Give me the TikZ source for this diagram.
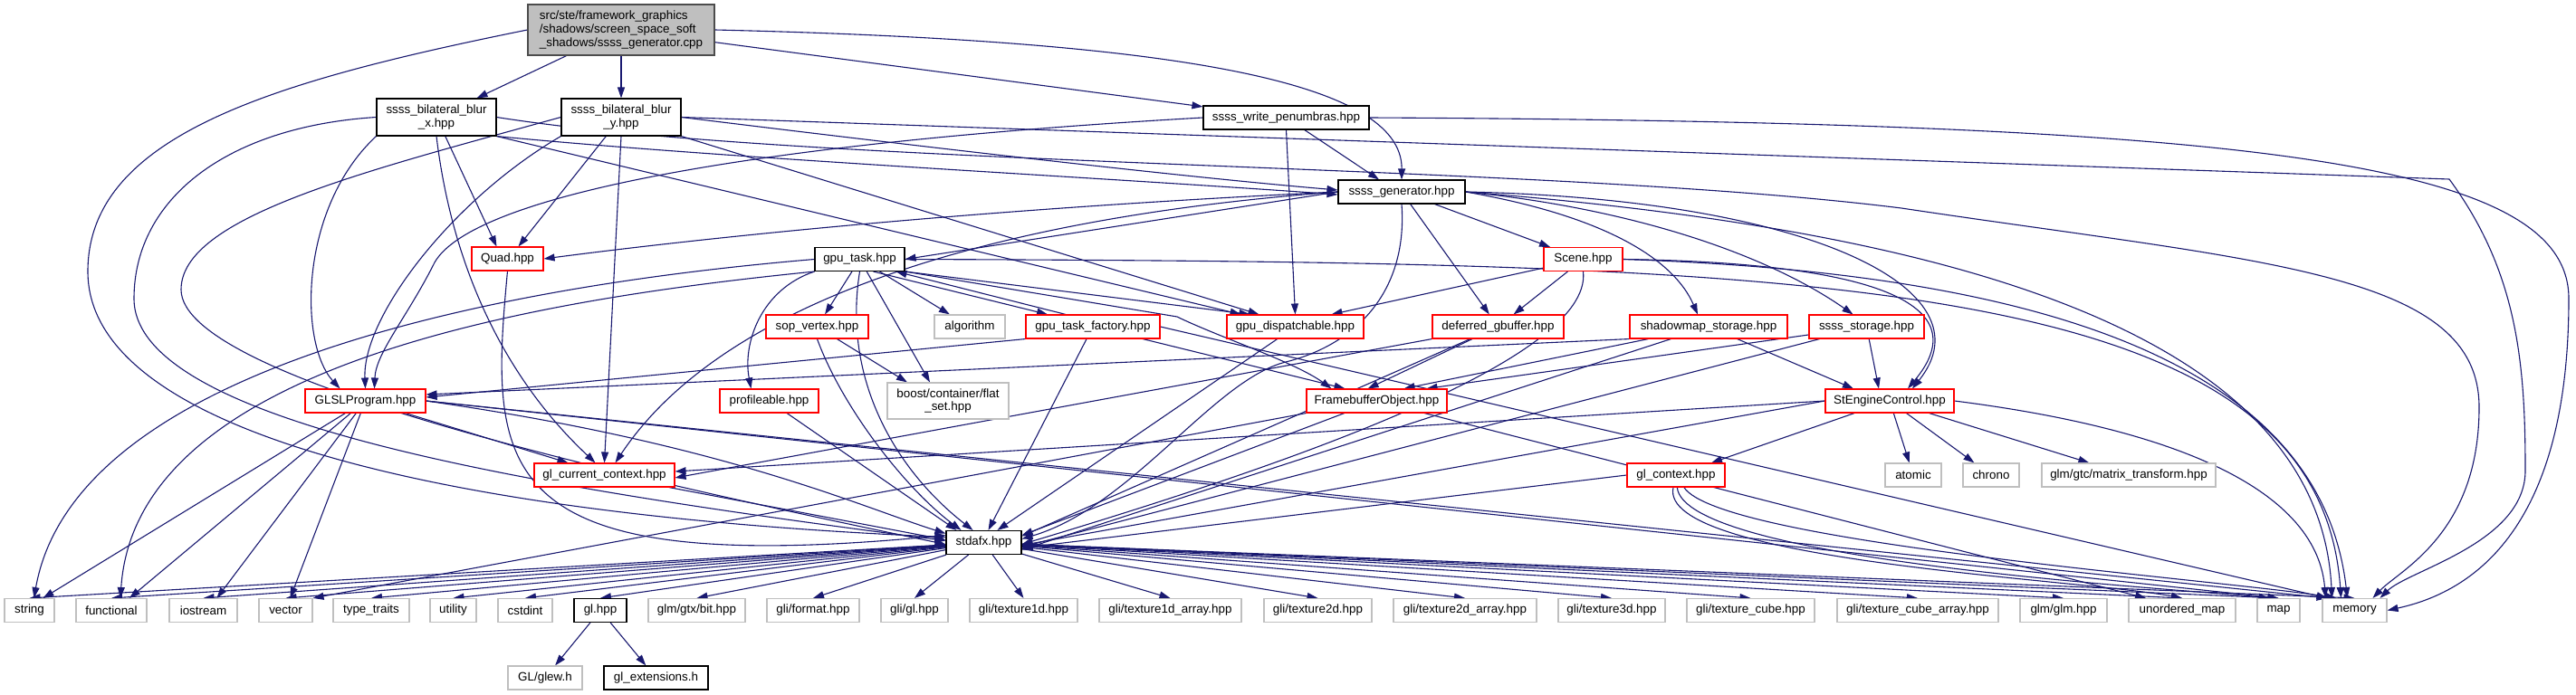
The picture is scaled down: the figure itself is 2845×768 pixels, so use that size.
\documentclass[tikz,border=0pt]{standalone}
\usepackage{fontspec}
\setmainfont{Liberation Sans}
\usetikzlibrary{arrows.meta,backgrounds}
\definecolor{incblue}{HTML}{191970}
\definecolor{sysgray}{HTML}{BFBFBF}
\newcommand{\dxfont}{\fontsize{13.4}{14.7}\selectfont}

\begin{document}
\begin{tikzpicture}[x=1pt, y=-1pt,
  box/.style={draw, line width=1.1pt, fill=white, inner sep=0pt, minimum height=26pt, font=\dxfont},
  hdr/.style={box, draw=red},
  own/.style={box, draw=black},
  sys/.style={box, draw=sysgray},
  root/.style={box, draw=black!70, fill=sysgray, align=left},
  inc/.style={draw=incblue, line width=1.1pt, -{Triangle[length=12pt,width=8pt]}}
]
\useasboundingbox (0,0) rectangle (2845,768);

% top of the graph
\node[root, minimum width=206pt, minimum height=56pt] (cpp) at (686,33) {src/ste/framework\_graphics\\/shadows/screen\_space\_soft\\\_shadows/ssss\_generator.cpp};
\node[own, minimum width=132pt, minimum height=41pt, align=center] (blurx) at (482,129.5) {ssss\_bilateral\_blur\\\_x.hpp};
\node[own, minimum width=132pt, minimum height=41pt, align=center] (blury) at (686,129.5) {ssss\_bilateral\_blur\\\_y.hpp};
\node[own, minimum width=183pt] (pen) at (1420.5,130) {ssss\_write\_penumbras.hpp};
\node[own, minimum width=140pt] (gen) at (1548,212) {ssss\_generator.hpp};

% middle
\node[hdr, minimum width=79pt] (quad) at (560.5,286) {Quad.hpp};
\node[own, minimum width=99pt] (gputask) at (949.5,286.5) {gpu\_task.hpp};
\node[hdr, minimum width=87pt] (scene) at (1748.5,286.5) {Scene.hpp};
\node[hdr, minimum width=113pt] (sop) at (902.5,361) {sop\_vertex.hpp};
\node[sys, minimum width=78pt] (algo) at (1071,361) {algorithm};
\node[hdr, minimum width=148pt] (factory) at (1207,361) {gpu\_task\_factory.hpp};
\node[hdr, minimum width=151pt] (disp) at (1430.5,361) {gpu\_dispatchable.hpp};
\node[hdr, minimum width=145pt] (gbuf) at (1654.5,361) {deferred\_gbuffer.hpp};
\node[hdr, minimum width=174pt] (smap) at (1887,361) {shadowmap\_storage.hpp};
\node[hdr, minimum width=127pt] (sstor) at (2061.5,361) {ssss\_storage.hpp};
\node[hdr, minimum width=133pt] (glsl) at (403.5,443) {GLSLProgram.hpp};
\node[hdr, minimum width=109pt] (prof) at (849.5,443) {profileable.hpp};
\node[sys, minimum width=134pt, minimum height=40pt, align=center] (flatset) at (1047,443) {boost/container/flat\\\_set.hpp};
\node[hdr, minimum width=155pt] (fbo) at (1520.5,443) {FramebufferObject.hpp};
\node[hdr, minimum width=142pt] (sec) at (2087,443) {StEngineControl.hpp};
\node[hdr, minimum width=155pt] (glcur) at (667.5,525) {gl\_current\_context.hpp};
\node[hdr, minimum width=108pt] (glctx) at (1851,525) {gl\_context.hpp};
\node[sys, minimum width=62pt] (atomic) at (2113,525) {atomic};
\node[sys, minimum width=62pt] (chrono) at (2199,525) {chrono};
\node[sys, minimum width=192pt] (mtx) at (2351,525) {glm/gtc/matrix\_transform.hpp};
\node[own, minimum width=83pt] (stdafx) at (1086.5,599.5) {stdafx.hpp};

% bottom row
\foreach \id/\cx/\w/\txt in {str/32.5/55/{string}, func/123/78/{functional}, iostr/224.5/75/{iostream},
    vec/315.5/59/{vector}, ttr/410/84/{type\_traits}, util/500.5/51/{utility}, cstd/580/60/{cstdint},
    gtxbit/769.5/107/{glm/gtx/bit.hpp}, glifmt/898/102/{gli/format.hpp}, gligl/1010/74/{gli/gl.hpp},
    tex1d/1130.5/119/{gli/texture1d.hpp}, tex1da/1292.5/157/{gli/texture1d\_array.hpp},
    tex2d/1455.5/119/{gli/texture2d.hpp}, tex2da/1618/158/{gli/texture2d\_array.hpp},
    tex3d/1780/118/{gli/texture3d.hpp}, texcube/1933.5/141/{gli/texture\_cube.hpp},
    texcubea/2118/178/{gli/texture\_cube\_array.hpp}, glmglm/2279/96/{glm/glm.hpp},
    umap/2410/118/{unordered\_map}, map/2516.5/47/{map}, memory/2600.5/71/{memory}}
  \node[sys, minimum width=\w pt] (\id) at (\cx,674.5) {\txt};
\node[own, minimum width=58pt] (glhpp) at (663,674.5) {gl.hpp};
\node[sys, minimum width=82pt] (glew) at (602,749) {GL/glew.h};
\node[own, minimum width=115pt] (glext) at (724.5,749) {gl\_extensions.h};

\begin{scope}[on background layer]
\fill[white] (0,0) rectangle (2845,768);
% ssss_generator.cpp
\draw[inc] (cpp) -- (blurx);
\draw[inc] (cpp) -- (blury);
\draw[inc] (cpp) -- (pen);
\draw[inc] (cpp.east) .. controls (1300,45) and (1549,90) .. (gen.north);
\draw[inc] (cpp.west) .. controls (300,90) and (97,150) .. (97,300) .. controls (97,480) and (500,570) .. ([yshift=6pt]stdafx.west);
% blur x
\draw[inc] (blurx.south east) .. controls (800,175) and (1200,195) .. ([yshift=-3pt]gen.west);
\draw[inc] (blurx) -- ([xshift=-12pt]quad.north);
\draw[inc] (blurx.south west) .. controls (330,230) and (330,380) .. ([xshift=-28pt]glsl.north);
\draw[inc] (blurx.south) .. controls (500,300) and (560,420) .. ([xshift=-10pt]glcur.north);
\draw[inc] (blurx.south east) -- ([xshift=-60pt]disp.north);
\draw[inc] (blurx.west) .. controls (250,140) and (148,220) .. (148,330) .. controls (148,470) and (600,540) .. ([yshift=2pt]stdafx.west);
\draw[inc] (blurx.east) .. controls (900,185) and (1700,180) .. (2100,230) .. controls (2500,290) and (2738,300) .. (2738,450) .. controls (2738,590) and (2650,630) .. ([xshift=20pt]memory.north);
% blur y
\draw[inc] (blury.east) .. controls (1000,160) and (1300,195) .. ([yshift=2pt]gen.west);
\draw[inc] (blury) -- ([xshift=12pt]quad.north);
\draw[inc] (blury.south west) .. controls (500,220) and (400,350) .. (glsl.north);
\draw[inc] (blury.south) -- (glcur.north);
\draw[inc] (blury.south east) -- ([xshift=-40pt]disp.north);
\draw[inc] (blury.west) .. controls (400,190) and (200,240) .. (200,320) .. controls (200,420) and (700,530) .. ([yshift=-2pt]stdafx.west);
\draw[inc] (blury.east) -- (2705,198) .. controls (2780,300) and (2789,400) .. (2789,520) .. controls (2789,600) and (2660,630) .. ([xshift=28pt]memory.north);
% write penumbras
\draw[inc] (pen) -- ([xshift=-25pt]gen.north);
\draw[inc] (pen.south) -- (disp.north);
\draw[inc] (pen.west) .. controls (800,160) and (520,220) .. (480,290) .. controls (450,350) and (415,390) .. ([xshift=10pt]glsl.north);
\draw[inc] (pen.east) .. controls (2500,135) and (2837,180) .. (2837,330) .. controls (2837,560) and (2750,650) .. (memory.east);
% ssss_generator.hpp
\draw[inc] (gen.west) -- (gputask.east);
\draw[inc] (gen.west) .. controls (1100,230) and (800,260) .. (quad.east);
\draw[inc] (gen.west) .. controls (1100,240) and (800,330) .. ([xshift=12pt]glcur.north);
\draw[inc] (gen) -- (scene);
\draw[inc] (gen) -- (gbuf);
\draw[inc] (gen.east) .. controls (1780,240) and (1850,290) .. ([xshift=-12pt]smap.north);
\draw[inc] (gen.east) .. controls (1800,230) and (1950,280) .. ([xshift=-15pt]sstor.north);
\draw[inc] (gen.east) .. controls (2000,220) and (2200,320) .. ([xshift=25pt]sec.north);
\draw[inc] (gen.south) .. controls (1555,320) and (1500,380) .. (1420,400) .. controls (1340,420) and (1250,560) .. ([yshift=4pt]stdafx.east);
\draw[inc] (gen.east) .. controls (2100,250) and (2560,350) .. ([xshift=-25pt]memory.north);
% gpu_task.hpp
\draw[inc] (gputask) -- (sop);
\draw[inc] (gputask) -- (algo);
\draw[inc] ([xshift=15pt]gputask.south) -- ([xshift=-50pt]factory.north);
\draw[inc] (gputask.south east) -- ([xshift=-50pt]disp.north);
\draw[inc] (gputask.south east) -- (1300,350) .. controls (1345,372) and (1430,400) .. ([xshift=-50pt]fbo.north);
\draw[inc] (gputask) -- ([xshift=-20pt]flatset.north);
\draw[inc] (gputask.south) .. controls (930,420) and (990,520) .. ([xshift=-12pt]stdafx.north);
\draw[inc] (gputask.west) .. controls (500,320) and (80,420) .. ([xshift=5pt]str.north);
\draw[inc] (gputask.south west) .. controls (600,330) and (150,400) .. ([xshift=10pt]func.north);
\draw[inc] (gputask.east) .. controls (2000,290) and (2560,300) .. ([xshift=-15pt]memory.north);
\draw[inc] (gputask.south west) .. controls (840,320) and (820,380) .. ([xshift=-20pt]prof.north);
% sop_vertex.hpp
\draw[inc] (sop) -- ([xshift=-45pt]flatset.north);
\draw[inc] (sop.south) .. controls (930,450) and (1000,540) .. ([xshift=-25pt]stdafx.north);
% gpu_task_factory.hpp
\draw[inc] ([xshift=-30pt]factory.north) -- ([xshift=40pt]gputask.south);
\draw[inc] (factory) -- ([xshift=-35pt]fbo.north);
\draw[inc] (factory.south west) -- ([yshift=4pt]glsl.east);
\draw[inc] (factory) -- ([xshift=5pt]stdafx.north);
\draw[inc] (factory.east) -- ([xshift=-30pt]memory.north);
% gpu_dispatchable.hpp
\draw[inc] (disp) -- ([xshift=15pt]stdafx.north);
% Scene.hpp
\draw[inc] (scene) -- ([xshift=40pt]disp.north);
\draw[inc] (scene) -- (gbuf);
\draw[inc] (scene.east) .. controls (2050,290) and (2190,330) .. ([xshift=20pt]sec.north);
\draw[inc] (scene.south) .. controls (1760,400) and (1400,520) .. ([yshift=-2pt]stdafx.east);
\draw[inc] (scene.east) .. controls (2200,300) and (2560,380) .. ([xshift=-8pt]memory.north);
% deferred_gbuffer.hpp
\draw[inc] (gbuf) -- ([xshift=-10pt]fbo.north);
\draw[inc] (gbuf.south west) -- ([yshift=-3pt]glcur.east);
\draw[inc] (gbuf) -- ([yshift=7pt]stdafx.east);
% shadowmap_storage.hpp
\draw[inc] (smap) -- ([xshift=30pt]fbo.north);
\draw[inc] (smap) -- ([xshift=-40pt]sec.north);
\draw[inc] (smap) -- ([yshift=-8pt]stdafx.east);
\draw[inc] (smap.south west) -- ([yshift=7pt]glsl.east);
% ssss_storage.hpp
\draw[inc] (sstor) -- ([xshift=55pt]fbo.north);
\draw[inc] (sstor) -- ([xshift=-12pt]sec.north);
\draw[inc] (sstor) -- ([yshift=-5pt]stdafx.east);
% Quad.hpp and profileable.hpp
\draw[inc] (quad.south) .. controls (540,520) and (540,640) .. ([yshift=8pt]stdafx.west);
\draw[inc] (prof) -- ([xshift=-30pt]stdafx.north);
% GLSLProgram.hpp
\draw[inc] (glsl) -- ([xshift=-40pt]glcur.north);
\draw[inc] (glsl) -- ([xshift=15pt]str.north);
\draw[inc] (glsl) -- ([xshift=20pt]func.north);
\draw[inc] (glsl) -- ([xshift=15pt]iostr.north);
\draw[inc] (glsl) -- ([xshift=5pt]vec.north);
\draw[inc] (glsl.east) .. controls (800,490) and (950,560) .. ([yshift=10pt]stdafx.west);
\draw[inc] (glsl.east) -- (map.north);
\draw[inc] (glsl.east) -- ([xshift=-30pt]memory.north);
% FramebufferObject.hpp
\draw[inc] (fbo) -- ([yshift=8pt]stdafx.east);
\draw[inc] (fbo.south west) -- (vec.north east);
\draw[inc] (fbo) -- ([xshift=-40pt]umap.north);
% StEngineControl.hpp
\draw[inc] (sec) -- (glctx);
\draw[inc] (sec) -- (atomic);
\draw[inc] (sec) -- (chrono);
\draw[inc] (sec) -- (mtx);
\draw[inc] (sec.west) -- ([yshift=-3pt]stdafx.east);
\draw[inc] (sec.west) -- ([yshift=4pt]glcur.east);
\draw[inc] (sec.east) .. controls (2450,480) and (2560,560) .. ([xshift=-32pt]memory.north);
% gl_current_context.hpp and gl_context.hpp
\draw[inc] (glcur) -- ([yshift=3pt]stdafx.west);
\draw[inc] (glctx.west) -- ([yshift=-6pt]stdafx.east);
\draw[inc] (glctx) .. controls (1830,620) and (2300,640) .. (umap.north);
\draw[inc] (glctx) .. controls (1860,620) and (2400,650) .. ([xshift=-10pt]map.north);
\draw[inc] (glctx) .. controls (1900,600) and (2450,640) .. ([xshift=-20pt]memory.north);
% stdafx.hpp
\foreach \t in {str,func,iostr,vec,ttr,util,cstd,glhpp,gtxbit,glifmt,gligl,tex1d,tex1da,tex2d,tex2da,tex3d,texcube,texcubea,glmglm,umap,map,memory}
  \draw[inc] (stdafx) -- (\t.north);
% gl.hpp
\draw[inc] (glhpp) -- (glew);
\draw[inc] (glhpp) -- (glext);
\end{scope}
\end{tikzpicture}
\end{document}
